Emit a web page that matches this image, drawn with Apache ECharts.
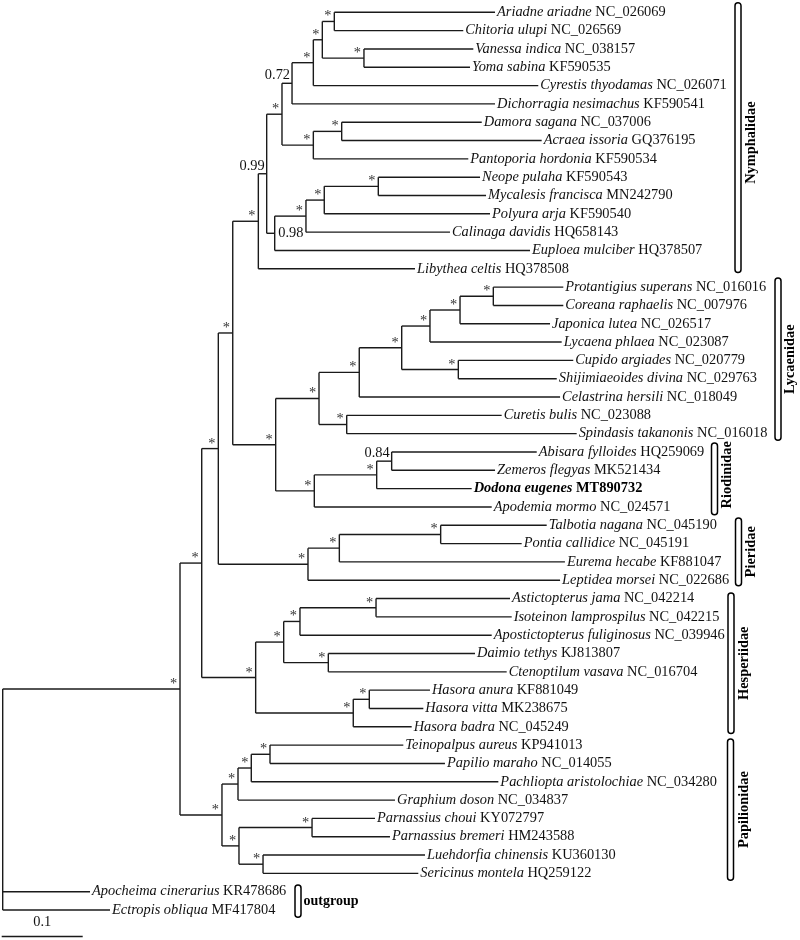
<!DOCTYPE html>
<html><head><meta charset="utf-8">
<script src="https://cdn.jsdelivr.net/npm/echarts@6/dist/echarts.min.js"></script>
<style>html,body{margin:0;padding:0;background:#fff}#c{width:800px;height:940px}</style>
</head><body><div id="c"></div>
<script>
// ---- DATA ----
const leafNames = ['Ariadne ariadne','Chitoria ulupi','Vanessa indica','Yoma sabina','Cyrestis thyodamas','Dichorragia nesimachus','Damora sagana','Acraea issoria','Pantoporia hordonia','Neope pulaha','Mycalesis francisca','Polyura arja','Calinaga davidis','Euploea mulciber','Libythea celtis','Protantigius superans','Coreana raphaelis','Japonica lutea','Lycaena phlaea','Cupido argiades','Shijimiaeoides divina','Celastrina hersili','Curetis bulis','Spindasis takanonis','Abisara fylloides','Zemeros flegyas','Dodona eugenes','Apodemia mormo','Talbotia nagana','Pontia callidice','Eurema hecabe','Leptidea morsei','Astictopterus jama','Isoteinon lamprospilus','Apostictopterus fuliginosus','Daimio tethys','Ctenoptilum vasava','Hasora anura','Hasora vitta','Hasora badra','Teinopalpus aureus','Papilio maraho','Pachliopta aristolochiae','Graphium doson','Parnassius choui','Parnassius bremeri','Luehdorfia chinensis','Sericinus montela','Apocheima cinerarius','Ectropis obliqua'];
const leafAccessions = ['NC_026069','NC_026569','NC_038157','KF590535','NC_026071','KF590541','NC_037006','GQ376195','KF590534','KF590543','MN242790','KF590540','HQ658143','HQ378507','HQ378508','NC_016016','NC_007976','NC_026517','NC_023087','NC_020779','NC_029763','NC_018049','NC_023088','NC_016018','HQ259069','MK521434','MT890732','NC_024571','NC_045190','NC_045191','KF881047','NC_022686','NC_042214','NC_042215','NC_039946','KJ813807','NC_016704','KF881049','MK238675','NC_045249','KP941013','NC_014055','NC_034280','NC_034837','KY072797','HM243588','KU360130','HQ259122','KR478686','MF417804'];
// cumulative distance from root (substitutions/site)
const leafDepths = [0.6078,0.5686,0.5810,0.5769,0.6612,0.6078,0.5914,0.6654,0.5748,0.5893,0.5967,0.6016,0.5522,0.6510,0.5090,0.6921,0.6921,0.6757,0.6901,0.7044,0.6840,0.6881,0.6160,0.7086,0.6593,0.6078,0.5790,0.6037,0.6716,0.6407,0.6941,0.6881,0.6263,0.6284,0.6037,0.5831,0.6222,0.5275,0.5193,0.5049,0.4946,0.5460,0.6119,0.4843,0.4596,0.4781,0.5214,0.5131,0.1078,0.1325];
const highlightLeaf = 'Dodona eugenes';
// internal nodes: children (number = leaf index, 'nK' = node K)
const nodeChildren = [
  ['n1',48,49], ['n2','n41'], ['n3','n34'], ['n4','n31'], ['n5','n19'],
  ['n6',14], ['n7','n15'], ['n8','n13'], ['n9',5], ['n10',4],
  ['n11','n12'], [0,1], [2,3], ['n14',8], [6,7],
  ['n16',13], ['n17',12], ['n18',11], [9,10], ['n20','n28'],
  ['n21','n27'], ['n22',21], ['n23','n26'], ['n24',18], ['n25',17],
  [15,16], [19,20], [22,23], ['n29',27], ['n30',26],
  [24,25], ['n32',31], ['n33',30], [28,29], ['n35','n39'],
  ['n36','n38'], ['n37',34], [32,33], [35,36], ['n40',39],
  [37,38], ['n42','n45'], ['n43',43], ['n44',42], [40,41],
  ['n46','n47'], [44,45], [46,47]
];
const nodeDepths = [0,0.2189,0.2457,0.2662,0.2840,0.3156,0.3259,0.3448,0.3572,0.3835,
  0.3946,0.4094,0.4460,0.3835,0.4185,0.3358,0.3744,0.3970,0.4637,0.3370,
  0.3905,0.4402,0.4926,0.5275,0.5646,0.6057,0.5625,0.4247,0.3847,0.4617,
  0.4802,0.3769,0.4156,0.5407,0.3123,0.3469,0.3670,0.4609,0.4020,0.4328,
  0.4526,0.2707,0.2905,0.3069,0.3300,0.2917,0.3819,0.3214];
const nodeSupport = ['','*','*','*','*','*','0.99','*','0.72','*',
  '*','*','*','*','*','0.98','*','*','*','*',
  '*','*','*','*','*','*','*','*','*','*',
  '0.84','*','*','*','*','*','*','*','*','*',
  '*','*','*','*','*','*','*','*'];
const familyNames = ['Nymphalidae','Lycaenidae','Riodinidae','Pieridae','Hesperiidae','Papilionidae','outgroup'];
const familyFirst = [0,15,24,28,32,40,48];
const familyLast  = [14,23,27,31,39,47,49];
const scaleBarValue = 0.1;

// ---- LAYOUT / STYLE (pixels) ----
const famLayout = [
  {bx:735,  tx:751.5, pt:9.6, pb:3.8, dy:5},
  {bx:775,  tx:790,   pt:9,   pb:6.7, dy:0},
  {bx:711.5,tx:727,   pt:9,   pb:7.7, dy:-4},
  {bx:735.5,tx:751.5, pt:7.3, pb:5.4, dy:0},
  {bx:728,  tx:744,   pt:5.6, pb:6.8, dy:0},
  {bx:727.5,tx:744,   pt:6.2, pb:6.8, dy:0},
  {bx:295,  tx:303.5, pt:6.7, pb:7.3, dy:0, horizontal:true}
];
const supportRight = {15:true}; // label drawn right of node
const FONT = '"Liberation Serif","Times New Roman",serif';
const LINE = '#1a1a1a';
const PX_PER_UNIT = 810, GRID_LEFT = 2.7, GRID_W = 797.3;

// ---- TREE GEOMETRY ----
function isNode(r){return typeof r==='string';}
function nIdx(r){return +r.slice(1);}
const yCache = {};
function yOf(r){
  if(!isNode(r)) return r;
  if(yCache[r]!==undefined) return yCache[r];
  const ch = nodeChildren[nIdx(r)];
  const v = (yOf(ch[0]) + yOf(ch[ch.length-1]))/2;
  yCache[r]=v; return v;
}
function xOf(r){return isNode(r)?nodeDepths[nIdx(r)]:leafDepths[r];}
const segments = [];
nodeChildren.forEach((ch,k)=>{
  const x = nodeDepths[k];
  const ys = ch.map(yOf);
  segments.push([x, Math.min(...ys), x, Math.max(...ys)]);
  ch.forEach(c=>{ segments.push([x, yOf(c), xOf(c), yOf(c)]); });
});
const supportData = nodeChildren.map((ch,k)=>[nodeDepths[k], yOf('n'+k), k]).filter(d=>nodeSupport[d[2]]!=='');
const leafData = leafNames.map((n,i)=>[leafDepths[i], i, i]);
const famData = familyNames.map((n,i)=>[familyFirst[i], familyLast[i], i]);

const RICH = {
  i:{fontFamily:FONT, fontSize:14.4, fontStyle:'italic', fill:'#111'},
  n:{fontFamily:FONT, fontSize:14.4, fill:'#111'},
  bi:{fontFamily:FONT, fontSize:14.4, fontStyle:'italic', fontWeight:'bold', fill:'#000'},
  b:{fontFamily:FONT, fontSize:14.4, fontWeight:'bold', fill:'#000'}
};

const chart = echarts.init(document.getElementById('c'), null, {renderer:'canvas'});
chart.setOption({
  animation:false,
  grid:{left:GRID_LEFT, top:12.3, width:GRID_W, height:897.7},
  xAxis:{type:'value', min:0, max:GRID_W/PX_PER_UNIT, show:false},
  yAxis:{type:'value', min:0, max:49, inverse:true, show:false},
  series:[
    {type:'custom', coordinateSystem:'cartesian2d', silent:true, clip:false,
     data:segments,
     renderItem:function(p,api){
       const a=api.coord([api.value(0),api.value(1)]), b=api.coord([api.value(2),api.value(3)]);
       return {type:'line', shape:{x1:a[0],y1:a[1],x2:b[0],y2:b[1]}, style:{stroke:LINE, lineWidth:1.4}};
     }},
    {type:'custom', coordinateSystem:'cartesian2d', silent:true, clip:false,
     data:leafData,
     renderItem:function(p,api){
       const i=api.value(2);
       const c=api.coord([api.value(0),api.value(1)]);
       const t = leafNames[i]===highlightLeaf
         ? '{bi|'+leafNames[i]+'} {b|'+leafAccessions[i]+'}'
         : '{i|'+leafNames[i]+'} {n|'+leafAccessions[i]+'}';
       return {type:'text', x:c[0]+2, y:c[1], style:{text:t, rich:RICH, font:'14.4px '+FONT, fill:'#111', align:'left', verticalAlign:'middle'}};
     }},
    {type:'custom', coordinateSystem:'cartesian2d', silent:true, clip:false,
     data:supportData,
     renderItem:function(p,api){
       const k=api.value(2), t=nodeSupport[k];
       const c=api.coord([api.value(0),api.value(1)]);
       if(supportRight[k]) return {type:'text', x:c[0]+3.6, y:c[1], style:{text:t, font:'14.4px '+FONT, fill:'#111', align:'left', verticalAlign:'middle'}};
       if(t==='*') return {type:'text', x:c[0]-2.9, y:c[1]-4.8, style:{text:t, font:'14.4px '+FONT, fill:'#333', align:'right', verticalAlign:'middle'}};
       return {type:'text', x:c[0]-2, y:c[1]-8, style:{text:t, font:'14.4px '+FONT, fill:'#111', align:'right', verticalAlign:'middle'}};
     }},
    {type:'custom', coordinateSystem:'cartesian2d', silent:true, clip:false,
     data:famData,
     renderItem:function(p,api){
       const i=api.value(2), L=famLayout[i];
       const y0=api.coord([0,api.value(0)])[1]-L.pt, y1=api.coord([0,api.value(1)])[1]+L.pb;
       const rect={type:'rect', shape:{x:L.bx, y:y0, width:6, height:y1-y0, r:3}, style:{fill:'#fff', stroke:'#000', lineWidth:1.5}};
       const cy=(y0+y1)/2+L.dy;
       const txt = L.horizontal
         ? {type:'text', x:L.tx, y:cy, style:{text:familyNames[i], font:'bold 14px '+FONT, fill:'#000', align:'left', verticalAlign:'middle'}}
         : {type:'text', x:L.tx, y:cy, rotation:Math.PI/2, style:{text:familyNames[i], font:'bold 14.4px '+FONT, fill:'#000', align:'center', verticalAlign:'middle'}};
       return {type:'group', children:[rect, txt]};
     }},
    {type:'custom', coordinateSystem:'cartesian2d', silent:true, clip:false,
     data:[[0, scaleBarValue]],
     renderItem:function(p,api){
       const a=api.coord([api.value(0),50.45]), b=api.coord([api.value(1),50.45]);
       return {type:'group', children:[
         {type:'line', shape:{x1:a[0]-1,y1:a[1],x2:b[0]-1,y2:b[1]}, style:{stroke:LINE, lineWidth:1.4}},
         {type:'text', x:(a[0]+b[0])/2-1, y:a[1]-14, style:{text:String(api.value(1)), font:'14.4px '+FONT, fill:'#111', align:'center', verticalAlign:'middle'}}
       ]};
     }}
  ]
});
</script></body></html>
